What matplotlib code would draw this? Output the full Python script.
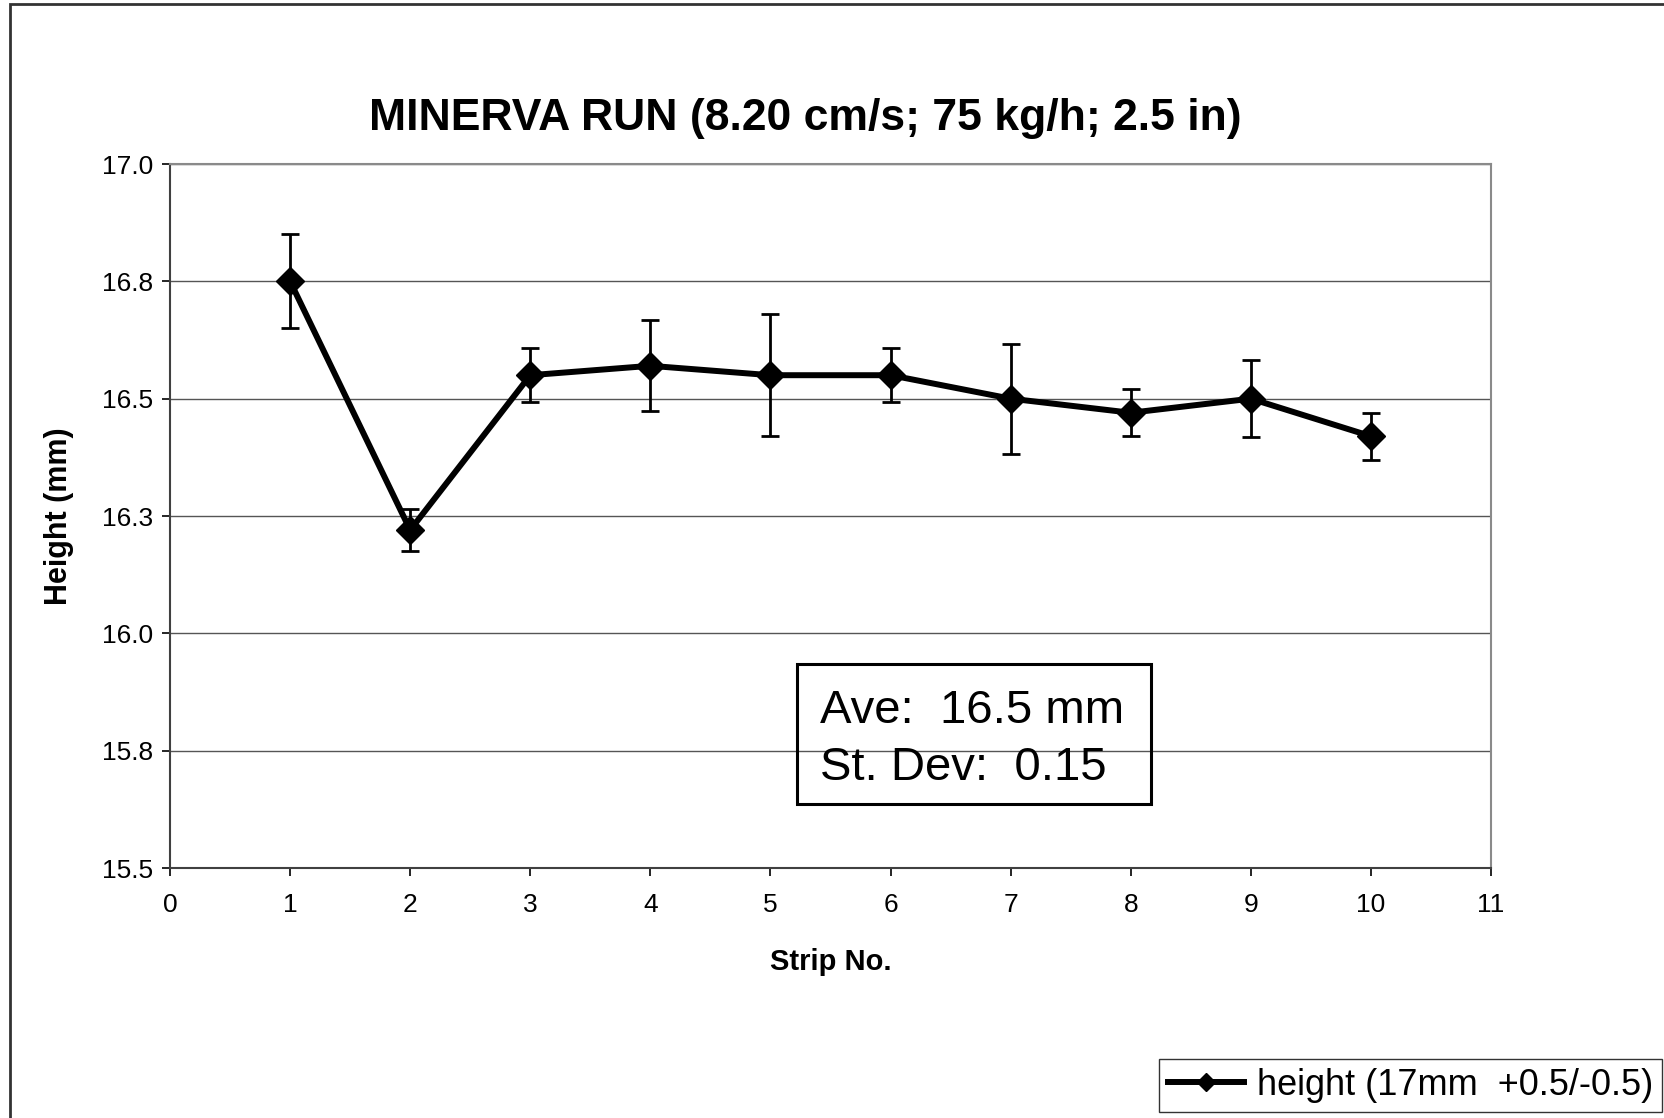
"""Minerva run: strip height with error bars, Excel-style chart."""
import matplotlib
matplotlib.use("Agg")
import matplotlib.pyplot as plt
from matplotlib.patches import Rectangle

plt.rcParams["font.family"] = ["Liberation Sans", "DejaVu Sans"]

# --- data ------------------------------------------------------------------------------
strips = [1, 2, 3, 4, 5, 6, 7, 8, 9, 10]
heights = [16.75, 16.22, 16.55, 16.57, 16.55, 16.55, 16.50, 16.47, 16.50, 16.42]
errors = [0.10, 0.045, 0.057, 0.097, 0.13, 0.057, 0.117, 0.05, 0.082, 0.05]

y_ticks = [15.5, 15.75, 16.0, 16.25, 16.5, 16.75, 17.0]
y_labels = ["15.5", "15.8", "16.0", "16.3", "16.5", "16.8", "17.0"]
x_ticks = list(range(0, 12))

title = "MINERVA RUN (8.20 cm/s; 75 kg/h; 2.5 in)"
series_label = "height (17mm  +0.5/-0.5)"
stats_lines = ["Ave:  16.5 mm", "St. Dev:  0.15"]

W, H = 1664, 1118
fig = plt.figure(figsize=(W / 100, H / 100), dpi=100)
ax = fig.add_axes([170 / W, 1 - 868 / H, (1491 - 170) / W, (868 - 164) / H])

ax.errorbar(strips, heights, yerr=errors, fmt="none", ecolor="black",
            elinewidth=2, capsize=6.5, capthick=2, zorder=3)
line, = ax.plot(strips, heights, color="black", lw=4.3, marker="D", ms=14,
                mfc="black", mec="black", label=series_label, zorder=4)

ax.set_xlim(0, 11)
ax.set_ylim(15.5, 17.0)
ax.set_xticks(x_ticks)
ax.set_yticks(y_ticks)
ax.set_yticklabels(y_labels)
ax.tick_params(labelsize=19, direction="out", length=6, width=1.2, colors="black")
ax.tick_params(axis="x", pad=12)
ax.tick_params(axis="y", pad=6)
ax.yaxis.grid(True, color="#555555", lw=1)
ax.set_axisbelow(True)
for side in ["left", "bottom"]:
    ax.spines[side].set_color("#404040")
    ax.spines[side].set_linewidth(1.5)
for side in ["top", "right"]:
    ax.spines[side].set_color("#8a8a8a")
    ax.spines[side].set_linewidth(1.5)

ax.set_xlabel("Strip No.", fontsize=21, fontweight="bold", labelpad=22)
ax.set_ylabel("Height (mm)", fontsize=22, fontweight="bold", labelpad=20)

fig.text(805 / W, 1 - 130 / H, title, ha="center", va="baseline",
         fontsize=32, fontweight="bold")

# stats box
fig.patches.append(Rectangle((797 / W, 1 - 804 / H), (1151 - 797) / W, (804 - 664) / H,
                             transform=fig.transFigure, fill=False, ec="black", lw=2.2))
fig.text(820 / W, 1 - 723 / H, stats_lines[0], fontsize=34, va="baseline")
fig.text(820 / W, 1 - 780 / H, stats_lines[1], fontsize=34, va="baseline")

# outer chart-area border
fig.patches.append(Rectangle((10 / W, -0.05), 1.1, 1.05 - 4 / H,
                             transform=fig.transFigure, fill=False, ec="#333333", lw=2))

leg = fig.legend(handles=[line], loc="lower right", bbox_to_anchor=(1662 / W, 6 / H),
                 fontsize=26, frameon=True, fancybox=False, edgecolor="black",
                 handlelength=2.1, handletextpad=0.35, borderpad=0.25,
                 borderaxespad=0, markerscale=0.65)
leg.get_frame().set_linewidth(1)

fig.savefig("out.png", dpi=100)
